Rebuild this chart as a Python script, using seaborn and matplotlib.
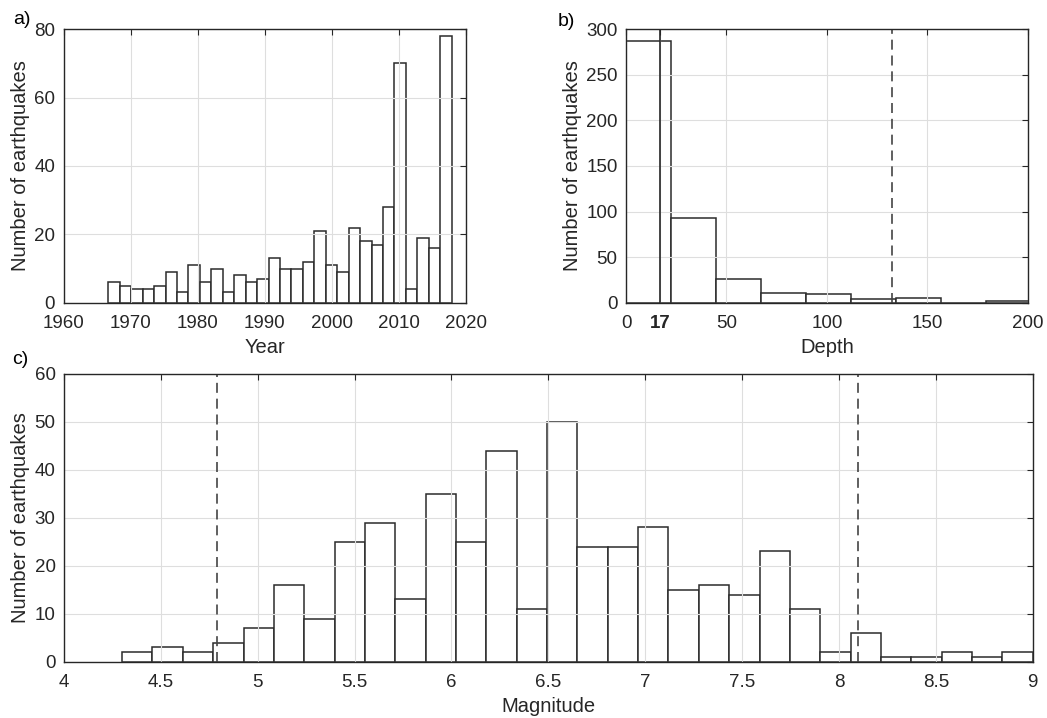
import numpy as np
import pandas as pd
import matplotlib
matplotlib.use("Agg")
import matplotlib.pyplot as plt
import seaborn as sns

# ---------------- data ----------------
# a) Year histogram (30 bins)
year_bin_start = 1966.7
year_bin_width = 1.708
year_counts = [6, 5, 4, 4, 5, 9, 3, 11, 6, 10, 3, 8, 6, 7, 13,
               10, 10, 12, 21, 11, 9, 22, 18, 17, 28, 70, 4, 19, 16, 78]

# b) Depth histogram (9 bins)
depth_bin_start = 0.0
depth_bin_width = 22.38
depth_counts = [287, 93, 26, 11, 10, 4, 5, 0, 2]
depth_median = 17
depth_dashed = 132.5

# c) Magnitude histogram (30 bins)
mag_bin_start = 4.3
mag_bin_width = 0.15667
mag_counts = [2, 3, 2, 4, 7, 16, 9, 25, 29, 13, 35, 25, 44, 11, 50,
              24, 24, 28, 15, 16, 14, 23, 11, 2, 6, 1, 1, 2, 1, 2]
mag_dashed = [4.79, 8.10]

year_ticks = [1960, 1970, 1980, 1990, 2000, 2010, 2020]
year_yticks = [0, 20, 40, 60, 80]
depth_ticks = [0, 17, 50, 100, 150, 200]
depth_yticks = [0, 50, 100, 150, 200, 250, 300]
mag_ticks = [4, 4.5, 5, 5.5, 6, 6.5, 7, 7.5, 8, 8.5, 9]
mag_tick_labels = ["4", "4.5", "5", "5.5", "6", "6.5", "7", "7.5", "8", "8.5", "9"]
mag_yticks = [0, 10, 20, 30, 40, 50, 60]

# ---------------- style ----------------
sns.set_theme(style="white")
plt.rcParams["font.family"] = ["Liberation Sans", "DejaVu Sans"]
DARK = "#262626"
EDGE = "#2b2b2b"
GRID = "#dedede"
TICK_FS = 13.5
LABEL_FS = 14.5

W, H = 1047, 718
fig = plt.figure(figsize=(W / 100, H / 100), dpi=100)


def px_axes(left, top, right, bottom):
    return fig.add_axes([left / W, 1 - bottom / H, (right - left) / W, (bottom - top) / H])


def hist(ax, start, width, counts):
    n = len(counts)
    edges = start + width * np.arange(n + 1)
    centers = (edges[:-1] + edges[1:]) / 2
    df = pd.DataFrame({"x": centers, "w": np.asarray(counts, dtype=float)})
    sns.histplot(data=df, x="x", weights="w", bins=edges.tolist(), ax=ax,
                 color="white", edgecolor=EDGE, linewidth=1.1, alpha=1.0,
                 zorder=1)


def style(ax, xlabel, xlim, ylim, xticks, yticks):
    ax.set_xlim(*xlim)
    ax.set_ylim(*ylim)
    ax.set_xticks(xticks)
    ax.set_yticks(yticks)
    ax.grid(True, color=GRID, linewidth=0.8, zorder=2)
    ax.set_axisbelow(False)
    for sp in ax.spines.values():
        sp.set_visible(True)
        sp.set_color(DARK)
        sp.set_linewidth(1.0)
        sp.set_zorder(5)
    ax.tick_params(direction="in", length=4, width=0.8, color=DARK,
                   top=True, right=True, labelsize=TICK_FS, labelcolor=DARK)
    ax.tick_params(axis="x", pad=9)
    ax.tick_params(axis="y", pad=6)
    ax.set_xlabel(xlabel, fontsize=LABEL_FS, color=DARK, labelpad=4)
    ax.set_ylabel("Number of earthquakes", fontsize=LABEL_FS, color=DARK, labelpad=3)


# a) Year
ax_a = px_axes(63.5, 29.3, 465.5, 302.7)
hist(ax_a, year_bin_start, year_bin_width, year_counts)
style(ax_a, "Year", (1960, 2020), (0, 80), year_ticks, year_yticks)

# b) Depth
ax_b = px_axes(626, 29.3, 1027.7, 302.7)
hist(ax_b, depth_bin_start, depth_bin_width, depth_counts)
style(ax_b, "Depth", (0, 200), (0, 300), depth_ticks, depth_yticks)
ax_b.axvline(depth_median, color=DARK, linewidth=1.2, zorder=4)
ax_b.axvline(depth_dashed, color="#444444", linewidth=1.2, dashes=(6, 3.5), zorder=4)
ax_b.get_xticklabels()[1].set_fontweight("bold")

# c) Magnitude
ax_c = px_axes(64, 373.7, 1032.7, 661.7)
hist(ax_c, mag_bin_start, mag_bin_width, mag_counts)
style(ax_c, "Magnitude", (4, 9), (0, 60), mag_ticks, mag_yticks)
ax_c.set_xticklabels(mag_tick_labels)
for x in mag_dashed:
    ax_c.axvline(x, color="#444444", linewidth=1.2, dashes=(6, 3.5), zorder=4)

# panel letters
fig.text(13 / W, 1 - 19 / H, "a)", fontsize=14, color="black", va="center", ha="left")
fig.text(558 / W, 1 - 22 / H, "b)", fontsize=14, color="black", va="center", ha="left")
fig.text(12 / W, 1 - 360 / H, "c)", fontsize=14, color="black", va="center", ha="left")

fig.savefig("out.png", dpi=100, facecolor="white")
